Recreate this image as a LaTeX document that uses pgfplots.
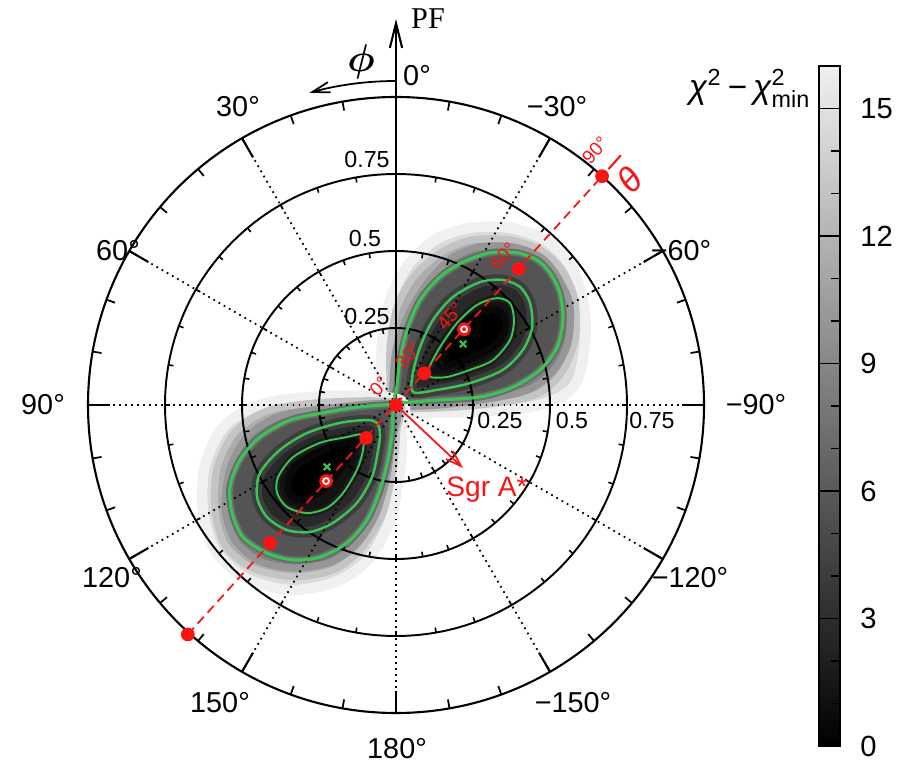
\documentclass[border=0pt]{standalone}
\usepackage{pgfplots}
\pgfplotsset{compat=1.18}
\usepackage{amsmath}
\usepackage{fontspec}
\setmainfont{Liberation Sans}
\newfontfamily\serifpf{Liberation Serif}
\usetikzlibrary{arrows.meta}
\definecolor{cgreen}{RGB}{60,195,85}
\definecolor{cred}{RGB}{250,20,20}
\pgfplotsset{polarbase/.style={at={(0,0)}, anchor=south west, x=3.08cm, y=3.08cm,
  xmin=-1.285714, xmax=1.633117, ymin=-1.159091, ymax=1.314935,
  hide axis, clip=false, enlargelimits=false},
  lev/.style n args={3}{fill=black!#1, draw=black!#2, line width=#3, line join=round, smooth cycle}}
\begin{document}
\begin{tikzpicture}
\useasboundingbox (0,0) rectangle (8.99,7.62);
% ---------------- heat map (chi^2 - chi^2_min) as nested grey levels
\begin{axis}[polarbase]
% upper lobe
\addplot[lev={14}{6}{3pt}] coordinates {(-0.019,-0.016) (0.240,-0.023) (0.468,0) (0.581,0.065) (0.614,0.211) (0.607,0.341) (0.565,0.455) (0.484,0.536) (0.370,0.575) (0.240,0.575) (0.127,0.536) (0.039,0.455) (-0.019,0.341) (-0.045,0.211) (-0.045,0.065)};
\addplot[lev={32}{23}{2pt}] coordinates {(-0.013,-0.006) (0.208,-0.006) (0.435,0.026) (0.532,0.097) (0.581,0.211) (0.581,0.341) (0.539,0.438) (0.468,0.503) (0.370,0.536) (0.247,0.536) (0.149,0.497) (0.062,0.422) (0.006,0.325) (-0.019,0.195) (-0.019,0.065)};
\addplot[lev={50}{41}{2pt}] coordinates {(-0.003,0) (0.175,0.003) (0.409,0.042) (0.507,0.107) (0.558,0.201) (0.565,0.325) (0.526,0.412) (0.474,0.477) (0.383,0.513) (0.273,0.513) (0.182,0.477) (0.104,0.399) (0.039,0.292) (0,0.179) (-0.010,0.065)};
\addplot[lev={67}{58}{2pt}] coordinates {(0.003,0.010) (0.133,0.016) (0.273,0.026) (0.380,0.058) (0.468,0.114) (0.523,0.188) (0.542,0.276) (0.532,0.364) (0.500,0.429) (0.458,0.471) (0.393,0.494) (0.305,0.494) (0.218,0.464) (0.143,0.416) (0.078,0.341) (0.036,0.244) (0.013,0.146) (0.003,0.058)};
\addplot[lev={84}{76}{3pt}] coordinates {(0.055,0.042) (0.133,0.049) (0.240,0.071) (0.347,0.114) (0.412,0.179) (0.442,0.253) (0.435,0.331) (0.403,0.383) (0.347,0.406) (0.273,0.399) (0.185,0.351) (0.120,0.276) (0.078,0.188) (0.055,0.104)};
\addplot[lev={93}{89}{2pt}] coordinates {(0.104,0.114) (0.143,0.188) (0.198,0.266) (0.263,0.325) (0.328,0.347) (0.370,0.331) (0.383,0.276) (0.370,0.211) (0.315,0.146) (0.240,0.114) (0.166,0.091) (0.110,0.091)};
\addplot[lev={100}{97}{2pt}] coordinates {(0.143,0.130) (0.192,0.227) (0.256,0.292) (0.328,0.308) (0.354,0.269) (0.338,0.211) (0.289,0.172) (0.208,0.140)};
% lower lobe
\addplot[lev={14}{6}{3pt}] coordinates {(0.013,0.016) (-0.214,0.029) (-0.425,0.006) (-0.555,-0.065) (-0.620,-0.195) (-0.627,-0.341) (-0.588,-0.471) (-0.490,-0.562) (-0.344,-0.601) (-0.198,-0.575) (-0.091,-0.503) (-0.019,-0.373) (0.013,-0.211) (0.019,-0.081)};
\addplot[lev={32}{23}{2pt}] coordinates {(0.006,0.006) (-0.214,0.010) (-0.409,-0.016) (-0.523,-0.088) (-0.581,-0.205) (-0.588,-0.341) (-0.555,-0.455) (-0.468,-0.529) (-0.334,-0.558) (-0.205,-0.536) (-0.117,-0.471) (-0.045,-0.357) (-0.010,-0.211) (0.003,-0.081)};
\addplot[lev={50}{41}{2pt}] coordinates {(-0.003,0) (-0.214,-0.010) (-0.377,-0.036) (-0.481,-0.101) (-0.539,-0.205) (-0.555,-0.341) (-0.519,-0.445) (-0.442,-0.507) (-0.334,-0.529) (-0.221,-0.513) (-0.136,-0.461) (-0.071,-0.367) (-0.032,-0.244) (-0.013,-0.114)};
\addplot[lev={67}{58}{2pt}] coordinates {(-0.010,0) (-0.117,-0.006) (-0.224,-0.023) (-0.344,-0.049) (-0.442,-0.104) (-0.507,-0.179) (-0.539,-0.266) (-0.532,-0.351) (-0.497,-0.429) (-0.419,-0.481) (-0.334,-0.503) (-0.247,-0.494) (-0.159,-0.448) (-0.094,-0.373) (-0.052,-0.276) (-0.026,-0.179) (-0.013,-0.091) (-0.010,-0.026)};
\addplot[lev={84}{76}{3pt}] coordinates {(-0.062,-0.058) (-0.094,-0.049) (-0.182,-0.058) (-0.289,-0.091) (-0.377,-0.146) (-0.442,-0.221) (-0.451,-0.299) (-0.419,-0.364) (-0.354,-0.406) (-0.279,-0.412) (-0.205,-0.383) (-0.127,-0.318) (-0.078,-0.234) (-0.058,-0.146) (-0.052,-0.091)};
\addplot[lev={93}{89}{2pt}] coordinates {(-0.110,-0.097) (-0.159,-0.104) (-0.247,-0.123) (-0.334,-0.169) (-0.383,-0.234) (-0.386,-0.286) (-0.354,-0.331) (-0.289,-0.351) (-0.224,-0.334) (-0.172,-0.286) (-0.127,-0.211) (-0.107,-0.146)};
\addplot[lev={100}{97}{2pt}] coordinates {(-0.133,-0.120) (-0.182,-0.211) (-0.247,-0.282) (-0.318,-0.308) (-0.351,-0.276) (-0.338,-0.218) (-0.286,-0.172) (-0.208,-0.136)};
\end{axis}
% ---------------- polar grid
\begin{scope}[shift={(3.96,3.57)}]
\foreach \r in {0.77,1.54,2.31} {
  \draw[line width=0.55pt] (0,0) circle (\r);
  \foreach \a in {0,10,...,350} \draw[line width=0.45pt] (\a:\r) -- (\a:{\r-0.05});
}
\draw[line width=0.6pt] (0,0) circle (3.08);
\foreach \a in {0,10,...,350} \draw[line width=0.5pt] (\a:3.08) -- (\a:2.99);
\foreach \a in {0,30,...,330} \draw[line width=0.6pt] (\a:3.08) -- (\a:2.86);
\foreach \p in {30,60,...,330} \draw[line width=0.5pt, dash pattern=on 0.5pt off 1.2pt] (0,0) -- ({90+\p}:2.86);
\draw[line width=0.6pt, -{Straight Barb[length=7pt,width=3.5pt]}] (0,0) -- (0,3.86);
\draw[line width=0.5pt, -{Straight Barb[length=5pt,width=3pt]}] (90:3.24) arc (90:105.5:3.24);
\end{scope}
% ---------------- data overlay: contours, theta line, markers
\begin{axis}[polarbase]
\addplot[cgreen, line width=0.9pt, smooth cycle] coordinates {(0.003,0.010) (0.133,0.016) (0.273,0.026) (0.380,0.058) (0.468,0.114) (0.523,0.188) (0.542,0.276) (0.532,0.364) (0.500,0.429) (0.458,0.471) (0.393,0.494) (0.305,0.494) (0.218,0.464) (0.143,0.416) (0.078,0.341) (0.036,0.244) (0.013,0.146) (0.003,0.058)};
\addplot[cgreen, line width=0.7pt, smooth cycle] coordinates {(0.055,0.042) (0.133,0.049) (0.240,0.071) (0.347,0.114) (0.412,0.179) (0.442,0.253) (0.435,0.331) (0.403,0.383) (0.347,0.406) (0.273,0.399) (0.185,0.351) (0.120,0.276) (0.078,0.188) (0.055,0.104)};
\addplot[cgreen, line width=0.55pt, smooth cycle] coordinates {(0.104,0.114) (0.143,0.188) (0.198,0.266) (0.263,0.325) (0.328,0.347) (0.370,0.331) (0.383,0.276) (0.370,0.211) (0.315,0.146) (0.240,0.114) (0.166,0.091) (0.110,0.091)};
\addplot[cgreen, line width=0.9pt, smooth cycle] coordinates {(-0.010,0) (-0.117,-0.006) (-0.224,-0.023) (-0.344,-0.049) (-0.442,-0.104) (-0.507,-0.179) (-0.539,-0.266) (-0.532,-0.351) (-0.497,-0.429) (-0.419,-0.481) (-0.334,-0.503) (-0.247,-0.494) (-0.159,-0.448) (-0.094,-0.373) (-0.052,-0.276) (-0.026,-0.179) (-0.013,-0.091) (-0.010,-0.026)};
\addplot[cgreen, line width=0.7pt, smooth cycle] coordinates {(-0.062,-0.058) (-0.094,-0.049) (-0.182,-0.058) (-0.289,-0.091) (-0.377,-0.146) (-0.442,-0.221) (-0.451,-0.299) (-0.419,-0.364) (-0.354,-0.406) (-0.279,-0.412) (-0.205,-0.383) (-0.127,-0.318) (-0.078,-0.234) (-0.058,-0.146) (-0.052,-0.091)};
\addplot[cgreen, line width=0.55pt, smooth cycle] coordinates {(-0.110,-0.097) (-0.159,-0.104) (-0.247,-0.123) (-0.334,-0.169) (-0.383,-0.234) (-0.386,-0.286) (-0.354,-0.331) (-0.289,-0.351) (-0.224,-0.334) (-0.172,-0.286) (-0.127,-0.211) (-0.107,-0.146)};
% theta axis (dashed) and its end segment
\addplot[cred, line width=0.5pt, dash pattern=on 2.6pt off 1.6pt] coordinates {(-0.676,-0.745) (0.669,0.743)};
\addplot[cred, line width=0.6pt] coordinates {(0.690,0.766) (0.730,0.811)};
% theta points
\addplot[only marks, mark=*, mark size=1.75pt, cred] coordinates {(0,0) (0.092,0.103) (0.398,0.442) (0.669,0.743) (-0.097,-0.107) (-0.409,-0.448) (-0.676,-0.745)};
\addplot[only marks, mark=*, mark size=1.75pt, cred] coordinates {(0.221,0.246) (-0.227,-0.247)};
\addplot[only marks, mark=o, mark size=0.85pt, white, line width=0.5pt] coordinates {(0.221,0.246) (-0.227,-0.247)};
% best fit
\addplot[only marks, mark=x, mark size=1.3pt, cgreen, line width=0.6pt] coordinates {(0.218,0.198) (-0.224,-0.201)};
\end{axis}
% ---------------- labels
\begin{scope}[every node/.style={font=\fontsize{8.2}{10}\selectfont, inner sep=0pt}]
\node at (4.17,6.86) {0°};
\node at (2.38,6.55) {30°};
\node at (5.57,6.55) {−30°};
\node at (1.18,5.11) {60°};
\node at (6.81,5.11) {−60°};
\node at (0.43,3.57) {90°};
\node at (7.56,3.57) {−90°};
\node at (1.12,1.84) {120°};
\node at (6.90,1.84) {−120°};
\node at (2.20,0.59) {150°};
\node at (5.73,0.59) {−150°};
\node at (3.97,0.13) {180°};
\end{scope}
\begin{scope}[every node/.style={font=\fontsize{6.6}{8}\selectfont, inner sep=0pt}]
\node at (3.67,6.02) {0.75};
\node at (3.65,5.23) {0.5};
\node at (3.67,4.45) {0.25};
\node at (5.00,3.41) {0.25};
\node at (5.72,3.41) {0.5};
\node at (6.52,3.41) {0.75};
\end{scope}
\node[font=\serifpf\fontsize{8.6}{10}\selectfont, inner sep=0pt] at (4.28,7.43) {PF};
\node[font=\fontsize{11}{12}\selectfont, inner sep=0pt] at (3.61,7.00) {$\boldsymbol{\phi}$};
% red annotations
\draw[cred, line width=0.5pt, -{Straight Barb[length=4.5pt,width=3pt]}] (3.96,3.57) -- (4.63,2.94);
\node[text=cred, font=\fontsize{8}{9}\selectfont, inner sep=0pt] at (4.87,2.72) {Sgr A*};
\begin{scope}[every node/.style={text=cred, font=\fontsize{5.4}{6}\selectfont, inner sep=0pt, rotate=48}]
\node at (3.79,3.76) {0°};
\node at (4.08,4.07) {30°};
\node at (4.50,4.46) {45°};
\node at (5.03,5.06) {60°};
\node at (5.95,6.12) {90°};
\end{scope}
\node[text=cred, font=\fontsize{10}{11}\selectfont\itshape, inner sep=0pt, rotate=48] at (6.30,5.82) {θ};
% ---------------- colour bar
\node[font=\fontsize{9.5}{11}\selectfont, inner sep=0pt] at (7.50,6.74) {\textit{χ}$^{\text{2}}$\,−\,\textit{χ}$^{\text{2}}_{\text{min}}$};
\begin{axis}[at={(8.19cm,0.16cm)}, anchor=south west, width=0.21cm, height=6.80cm,
  scale only axis, xmin=0, xmax=1, ymin=0, ymax=16, xtick=\empty,
  ytick={0,3,...,15}, minor ytick={1,2,4,5,7,8,10,11,13,14},
  ytick pos=right, yticklabel pos=right, tick align=inside,
  major tick length=0.21cm, minor tick length=0.09cm, axis on top,
  axis line style={line width=0.6pt}, every tick/.style={black, line width=0.5pt},
  tick label style={font=\fontsize{8.3}{10}\selectfont},
  /pgf/number format/assume math mode=true, yticklabel style={xshift=0.08cm}]
\fill[bottom color=black, top color=black!6] (rel axis cs:0,0) rectangle (rel axis cs:1,1);
\end{axis}
\end{tikzpicture}
\end{document}
